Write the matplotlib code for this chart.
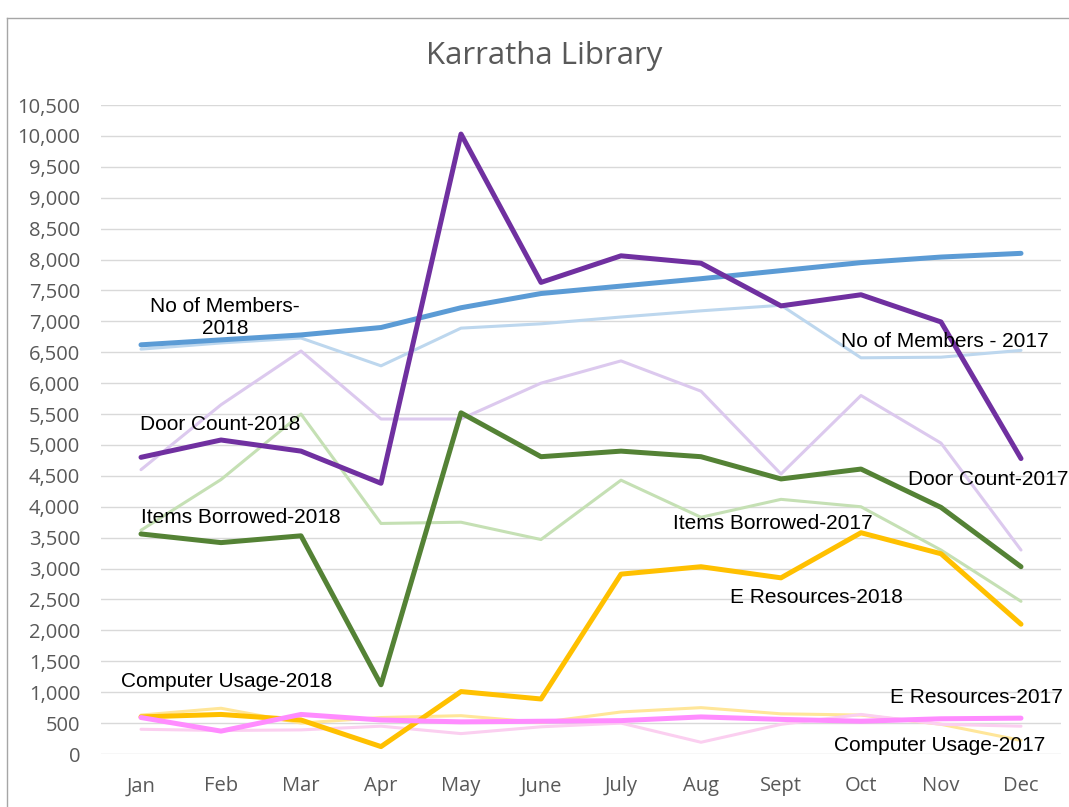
import matplotlib
matplotlib.use('Agg')
import matplotlib.pyplot as plt
from matplotlib.lines import Line2D
from matplotlib.ticker import FuncFormatter, MultipleLocator

months = ['Jan', 'Feb', 'Mar', 'Apr', 'May', 'June', 'July', 'Aug', 'Sept', 'Oct', 'Nov', 'Dec']

members_2018 = [6620, 6700, 6780, 6900, 7220, 7450, 7570, 7690, 7820, 7950, 8040, 8100]
members_2017 = [6550, 6650, 6730, 6280, 6890, 6960, 7070, 7170, 7260, 6410, 6420, 6530]
door_2018 = [4800, 5080, 4900, 4380, 10030, 7630, 8060, 7940, 7250, 7430, 6990, 4780]
door_2017 = [4600, 5650, 6520, 5420, 5420, 6000, 6360, 5870, 4530, 5800, 5030, 3300]
items_2018 = [3560, 3420, 3530, 1120, 5520, 4810, 4900, 4810, 4450, 4610, 3990, 3030]
items_2017 = [3620, 4440, 5500, 3730, 3750, 3470, 4430, 3830, 4120, 4000, 3300, 2470]
eres_2018 = [600, 640, 550, 120, 1010, 890, 2910, 3030, 2850, 3580, 3240, 2100]
eres_2017 = [630, 740, 500, 590, 620, 510, 680, 750, 650, 630, 480, 220]
comp_2018 = [590, 370, 640, 550, 520, 530, 540, 600, 560, 530, 570, 580]
comp_2017 = [400, 380, 390, 450, 330, 440, 500, 190, 480, 640, 480, 450]

fig = plt.figure(figsize=(10.69, 8.07), dpi=100)
ax = fig.add_axes([101 / 1069, 53 / 807, 960 / 1069, 649 / 807])

x = list(range(len(months)))

# light 2017 series underneath
ax.plot(x, members_2017, color='#BDD7EE', lw=2.2, solid_capstyle='round', zorder=3)
ax.plot(x, door_2017, color='#DCC9EE', lw=2.2, solid_capstyle='round', zorder=3)
ax.plot(x, items_2017, color='#C5E0B4', lw=2.2, solid_capstyle='round', zorder=3)
ax.plot(x, eres_2017, color='#FFE699', lw=2.2, solid_capstyle='round', zorder=3)
ax.plot(x, comp_2017, color='#FBCFF0', lw=2.2, solid_capstyle='round', zorder=3)

# 2018 series on top
ax.plot(x, members_2018, color='#5B9BD5', lw=3.6, solid_capstyle='round', zorder=4)
ax.plot(x, door_2018, color='#7030A0', lw=3.6, solid_capstyle='round', zorder=4)
ax.plot(x, items_2018, color='#548235', lw=3.6, solid_capstyle='round', zorder=4)
ax.plot(x, eres_2018, color='#FFC000', lw=3.6, solid_capstyle='round', zorder=4)
ax.plot(x, comp_2018, color='#FF8CFF', lw=3.6, solid_capstyle='round', zorder=5)

ax.set_xlim(-0.5, 11.5)
ax.set_ylim(0, 10500)
ax.yaxis.set_major_locator(MultipleLocator(500))
ax.yaxis.set_major_formatter(FuncFormatter(lambda v, p: f'{int(v):,}'))
ax.set_xticks(x)
ax.set_xticklabels(months)
ax.grid(axis='y', color='#D9D9D9', lw=1)
ax.set_axisbelow(True)
for s in ax.spines.values():
    s.set_visible(False)
ax.tick_params(length=0, labelsize=14.5, labelcolor='#595959')
ax.tick_params(axis='y', pad=15)
ax.tick_params(axis='x', pad=16)
for lab in ax.get_xticklabels() + ax.get_yticklabels():
    lab.set_family('Open Sans')

fig.text(544 / 1069, 1 - 64 / 807, 'Karratha Library', ha='center', va='baseline',
         fontsize=22.5, color='#595959', family='Open Sans')

# series labels
lab_kw = dict(fontsize=15, color='black', family='Liberation Sans', zorder=6)
ax.text(1.05, 7055, 'No of Members-\n2018', ha='center', va='center', linespacing=1.2, **lab_kw)
ax.text(11.34, 6667, 'No of Members - 2017', ha='right', va='center', **lab_kw)
ax.text(-0.01, 5330, 'Door Count-2018', ha='left', va='center', **lab_kw)
ax.text(9.59, 4434, 'Door Count-2017', ha='left', va='center', **lab_kw)
ax.text(0.0, 3819, 'Items Borrowed-2018', ha='left', va='center', **lab_kw)
ax.text(6.65, 3722, 'Items Borrowed-2017', ha='left', va='center', **lab_kw)
ax.text(7.36, 2540, 'E Resources-2018', ha='left', va='center', **lab_kw)
ax.text(-0.25, 1165, 'Computer Usage-2018', ha='left', va='center', **lab_kw)
ax.text(11.525, 922, 'E Resources-2017', ha='right', va='center', **lab_kw)
ax.text(11.3, 130, 'Computer Usage-2017', ha='right', va='center', **lab_kw)

# chart area border (left and top edges visible)
fig.add_artist(Line2D([7 / 1069, 7 / 1069], [0, 1 - 18 / 807], transform=fig.transFigure,
                      color='#A6A6A6', lw=1))
fig.add_artist(Line2D([7 / 1069, 1], [1 - 18 / 807, 1 - 18 / 807], transform=fig.transFigure,
                      color='#A6A6A6', lw=1))

fig.savefig('out.png', dpi=100, facecolor='white')
